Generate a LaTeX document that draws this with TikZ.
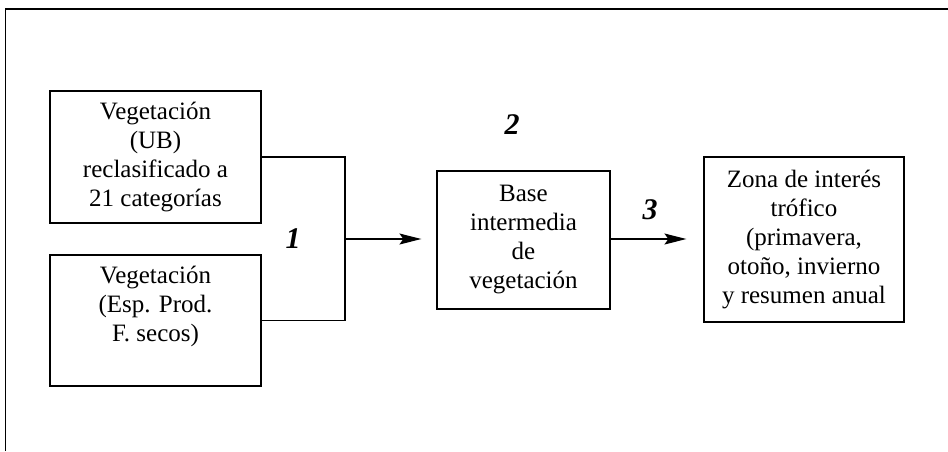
\documentclass[tikz,border=0pt]{standalone}
\usepackage{fontspec}
\setmainfont{Liberation Serif}
\usetikzlibrary{arrows.meta}
\begin{document}
\begin{tikzpicture}[x=1pt,y=-1pt,
  box/.style={draw,line width=1.2pt,align=center,inner sep=0pt,
    font=\fontsize{25}{29}\selectfont},
  num/.style={font=\fontsize{30}{32}\selectfont\bfseries\itshape},
  conn/.style={line width=1.2pt},
  arr/.style={conn,-{Stealth[length=22pt,width=11pt,inset=4pt]}}]
\useasboundingbox (0,0) rectangle (948,451);
\coordinate (fbl) at (5.7,451);
\coordinate (ftl) at (5.7,9);
\coordinate (ftr) at (948,9);
\draw[line width=1.2pt] (fbl) -- (ftl) -- (ftr);
\node[box,minimum width=211pt,minimum height=132pt] (b1) at (155.5,157)
  {Vegetación\\(UB)\\reclasificado a\\21 categorías};
\node[box,minimum width=211pt,minimum height=131pt] (b2) at (155.5,320.5)
  {Vegetación\\(Esp. Prod.\\F. secos)\\[4pt]};
\node[box,minimum width=173pt,minimum height=138pt] (b3) at (523.5,240)
  {Base\\intermedia\\de\\vegetación};
\node[box,minimum width=200pt,minimum height=165pt] (b4) at (804,239.5)
  {Zona de interés\\trófico\\(primavera,\\otoño, invierno\\y resumen anual};
\coordinate (j) at (345,239);
\draw[conn] (b1.east) -| (j) |- (b2.east);
\draw[arr,shorten >=15pt] (j) -- (b3.west |- j);
\draw[arr,shorten >=17pt] (b3.east |- j) -- (b4.west |- j);
\node[num] (n1) at (293,239) {1};
\node[num] (n2) at (512,125) {2};
\node[num] (n3) at (650,210) {3};
\end{tikzpicture}
\end{document}
